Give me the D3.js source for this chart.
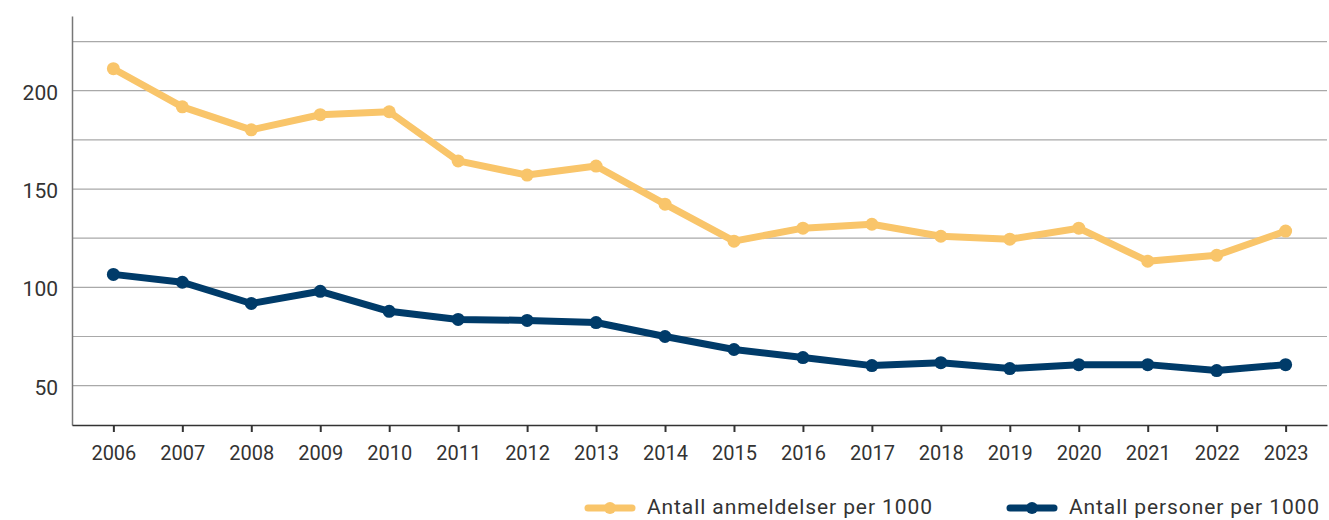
<!DOCTYPE html>
<html>
<head>
<meta charset="utf-8">
<script src="https://cdn.jsdelivr.net/npm/d3@7"></script>
<style>
  body { margin: 0; background: #fff; }
  svg { display: block; font-family: Roboto, "Noto Sans", sans-serif; }
</style>
</head>
<body>
<div id="chart"></div>
<script>
// Anmeldelser og personer per 1000, 2006-2023
const years = ['2006','2007','2008','2009','2010','2011','2012','2013','2014','2015','2016','2017','2018','2019','2020','2021','2022','2023'];
const anmeldelser = [211.2, 191.8, 180.1, 187.8, 189.3, 164.3, 157.1, 161.7, 142.3, 123.5, 130.1, 132.1, 126.0, 124.5, 130.1, 113.3, 116.3, 128.6];
const personer = [106.6, 102.6, 91.8, 98.0, 87.8, 83.7, 83.2, 82.1, 75.0, 68.4, 64.3, 60.2, 61.7, 58.7, 60.7, 60.7, 57.7, 60.7];
const yTickLabels = [50, 100, 150, 200];
const gridValues = [50, 75, 100, 125, 150, 175, 200, 225];
const seriesNames = ['Antall anmeldelser per 1000', 'Antall personer per 1000'];
const seriesColors = ['#f9c56a', '#003b69'];

const width = 1329, height = 520;
const plotLeft = 72, plotRight = 1327, plotTop = 16, plotBottom = 425;

const svg = d3.select('#chart').append('svg')
    .attr('width', width)
    .attr('height', height);

const x = d3.scalePoint()
    .domain(years)
    .range([plotLeft, plotRight])
    .padding(0.6);

const y = d3.scaleLinear()
    .domain([30, 238])
    .range([plotBottom, plotTop]);

// gridlines
svg.append('g')
    .selectAll('line')
    .data(gridValues)
    .enter()
    .append('line')
    .attr('x1', plotLeft)
    .attr('x2', plotRight)
    .attr('y1', d => y(d))
    .attr('y2', d => y(d))
    .attr('stroke', '#a9a9a9')
    .attr('stroke-width', 1.2);

// y axis
const yAxis = svg.append('g')
    .attr('transform', `translate(${plotLeft},0)`)
    .call(d3.axisLeft(y).tickValues(yTickLabels).tickSize(0).tickPadding(14));
yAxis.select('.domain').attr('stroke', '#777').attr('stroke-width', 1.5);
yAxis.selectAll('text')
    .attr('dy', '0.4em')
    .style('font-size', '21px')
    .style('fill', '#333')
    .attr('font-family', 'Roboto, sans-serif');

// x axis
const xAxis = svg.append('g')
    .attr('transform', `translate(0,${plotBottom})`)
    .call(d3.axisBottom(x).tickSize(7).tickSizeOuter(0).tickPadding(14));
xAxis.select('.domain').attr('stroke', '#333').attr('stroke-width', 1.5);
xAxis.selectAll('.tick line').attr('stroke', '#333').attr('stroke-width', 2);
xAxis.selectAll('text')
    .style('font-size', '20px')
    .style('fill', '#333')
    .attr('font-family', 'Roboto, sans-serif');

// lines
const line = d3.line()
    .x((d, i) => x(years[i]))
    .y(d => y(d));

[anmeldelser, personer].forEach((values, s) => {
    svg.append('path')
        .datum(values)
        .attr('d', line)
        .attr('fill', 'none')
        .attr('stroke', seriesColors[s])
        .attr('stroke-width', 7)
        .attr('stroke-linejoin', 'round');

    svg.append('g')
        .selectAll('circle')
        .data(values)
        .enter()
        .append('circle')
        .attr('cx', (d, i) => x(years[i]))
        .attr('cy', d => y(d))
        .attr('r', 6.5)
        .attr('fill', seriesColors[s]);
});

// legend
const legendX = [588, 1010];
seriesNames.forEach((name, s) => {
    const g = svg.append('g').attr('transform', `translate(${legendX[s]},508)`);
    g.append('line')
        .attr('x1', 0).attr('x2', 44)
        .attr('stroke', seriesColors[s])
        .attr('stroke-width', 7)
        .attr('stroke-linecap', 'round');
    g.append('circle')
        .attr('cx', 22)
        .attr('r', 6)
        .attr('fill', seriesColors[s]);
    g.append('text')
        .attr('x', 59)
        .attr('y', 6)
        .style('font-size', '21px')
        .style('letter-spacing', '0.9px')
        .style('fill', '#333')
        .text(name);
});
</script>
</body>
</html>
